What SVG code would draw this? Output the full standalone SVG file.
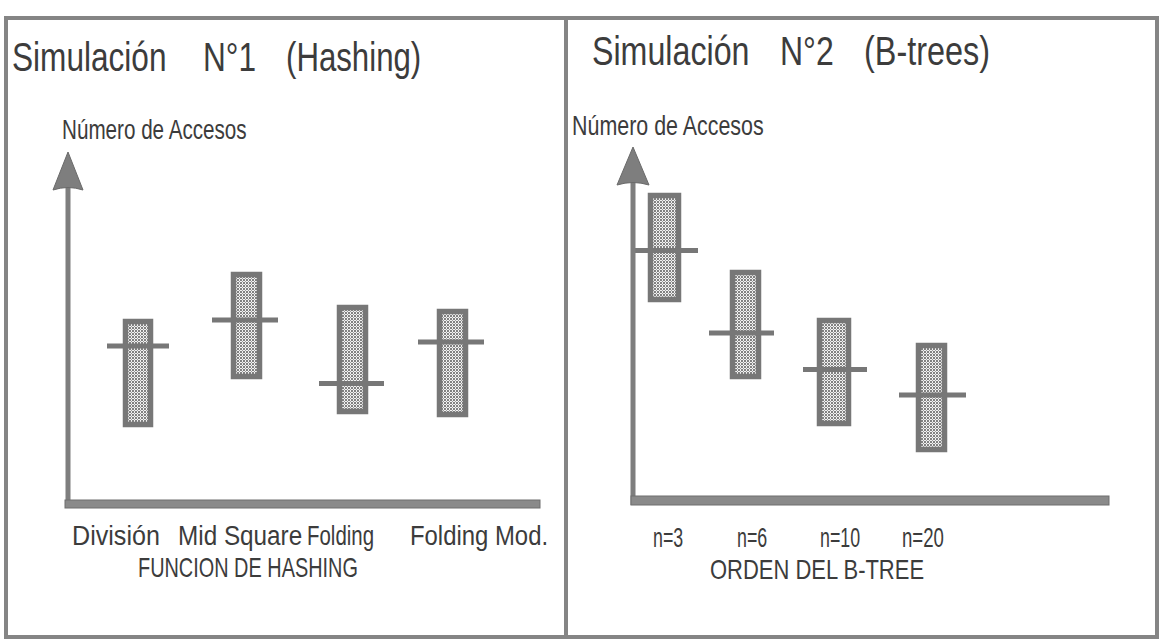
<svg xmlns="http://www.w3.org/2000/svg" width="1161" height="643" viewBox="0 0 1161 643">
<defs>
<pattern id="dots" width="3" height="3" patternUnits="userSpaceOnUse">
<rect width="3" height="3" fill="#f2f2f2"/>
<circle cx="1" cy="1" r="0.95" fill="#505050"/>
<circle cx="2.5" cy="2.5" r="0.55" fill="#8a8a8a"/>
</pattern>
<style>
.frame{fill:none;stroke:#858585;stroke-width:4}
.box{fill:url(#dots);stroke:#777777;stroke-width:5.5}
.bar{stroke:#777777;stroke-width:5;stroke-linecap:butt}
.axis{stroke:#7e7e7e;stroke-width:5}
.xaxis{fill:#8a8a8a;stroke:#6e6e6e;stroke-width:1}
.head{fill:#7e7e7e;stroke:#6a6a6a;stroke-width:1}
text{font-family:"Liberation Sans",Arial,sans-serif;fill:#3c3c3c}
.title{font-size:40px}
.ylab{font-size:27px}
.xlab{font-size:27px}
</style>
</defs>
<rect width="1161" height="643" fill="#ffffff"/>
<g id="frame">
<rect class="frame" x="6" y="18" width="1151" height="619"/>
<line class="frame" x1="566" y1="18" x2="566" y2="637"/>
</g>
<g id="panel-hashing">
<text class="title" transform="translate(12 71) scale(0.79 1)">Simulación</text>
<text class="title" transform="translate(203 71) scale(0.79 1)">N°1</text>
<text class="title" transform="translate(286 71) scale(0.78 1)">(Hashing)</text>
<text class="ylab" transform="translate(62 139) scale(0.765 1)">Número de Accesos</text>
<text class="xlab" transform="translate(72 545) scale(0.93 1)">División</text>
<text class="xlab" transform="translate(178 545) scale(0.9 1)">Mid Square</text>
<text class="xlab" transform="translate(307 545) scale(0.757 1)">Folding</text>
<text class="xlab" transform="translate(410 545) scale(0.885 1)">Folding Mod.</text>
<text class="xlab" transform="translate(138 577) scale(0.737 1)">FUNCION DE HASHING</text>
</g>
<g id="h-division"><rect class="box" x="125.5" y="321.5" width="25" height="103"/><line class="bar" x1="107" y1="346" x2="169" y2="346"/></g>
<g id="h-midsquare"><rect class="box" x="233.5" y="274.5" width="26" height="102"/><line class="bar" x1="212" y1="320" x2="278" y2="320"/></g>
<g id="h-folding"><rect class="box" x="339.5" y="307.5" width="26" height="104"/><line class="bar" x1="319" y1="383.5" x2="384" y2="383.5"/></g>
<g id="h-foldingmod"><rect class="box" x="439.5" y="311.5" width="26" height="103"/><line class="bar" x1="418" y1="342" x2="484" y2="342"/></g>
<g id="panel-btrees">
<text class="title" transform="translate(592 65) scale(0.805 1)">Simulación</text>
<text class="title" transform="translate(780 65) scale(0.8 1)">N°2</text>
<text class="title" transform="translate(864 65) scale(0.81 1)">(B-trees)</text>
<text class="ylab" transform="translate(572 135) scale(0.794 1)">Número de Accesos</text>
<text class="xlab" transform="translate(653 547) scale(0.66 1)">n=3</text>
<text class="xlab" transform="translate(737 547) scale(0.66 1)">n=6</text>
<text class="xlab" transform="translate(820 547) scale(0.66 1)">n=10</text>
<text class="xlab" transform="translate(902 547) scale(0.69 1)">n=20</text>
<text class="xlab" transform="translate(710 579) scale(0.814 1)">ORDEN DEL B-TREE</text>
</g>
<g id="b-n3"><rect class="box" x="650.5" y="195.5" width="28" height="104"/><line class="bar" x1="632" y1="250.5" x2="698" y2="250.5"/></g>
<g id="b-n6"><rect class="box" x="732.5" y="272.5" width="26" height="104"/><line class="bar" x1="709" y1="333" x2="774" y2="333"/></g>
<g id="b-n10"><rect class="box" x="819.5" y="320.5" width="29" height="103"/><line class="bar" x1="803" y1="369.5" x2="867" y2="369.5"/></g>
<g id="b-n20"><rect class="box" x="918.5" y="345.5" width="26" height="104"/><line class="bar" x1="899" y1="395" x2="966" y2="395"/></g>
<g id="connectors">
<line class="axis" x1="68" y1="186" x2="68" y2="506"/>
<path class="head" d="M68,152 L83,190 Q68,185 53,190 Z"/>
<rect class="xaxis" x="65" y="500" width="475" height="8"/>
<line class="axis" x1="633" y1="180" x2="633" y2="505"/>
<path class="head" d="M633,147 L649,185 Q633,180 617,185 Z"/>
<rect class="xaxis" x="631" y="496" width="478" height="9"/>
</g>
</svg>
